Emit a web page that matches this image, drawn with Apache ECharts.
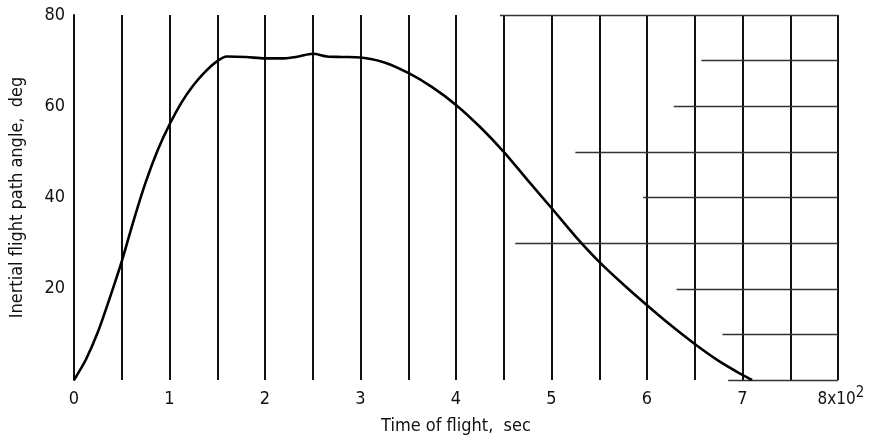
<!DOCTYPE html>
<html>
<head>
<meta charset="utf-8">
<script src="https://cdn.jsdelivr.net/npm/echarts@6/dist/echarts.min.js"></script>
<style>
  html, body { margin: 0; padding: 0; background: #fff; }
  #chart { width: 873px; height: 436px; }
</style>
</head>
<body>
<div id="chart"></div>
<script>
// time of flight (x10^2 sec) and inertial flight path angle (deg)
var timeVals = [0, 0.125, 0.25, 0.375, 0.5, 0.625, 0.75, 0.875, 1, 1.125, 1.25, 1.375, 1.5, 1.6, 1.8, 2, 2.2, 2.35, 2.5, 2.65, 2.8, 3, 3.25, 3.5, 3.75, 4, 4.25, 4.5, 4.75, 5, 5.25, 5.5, 5.75, 6, 6.25, 6.5, 6.75, 7, 7.1];
var angleVals = [0, 4.5, 10.5, 18, 26, 35, 43.3, 50.3, 56, 60.8, 64.6, 67.6, 69.9, 70.9, 70.8, 70.5, 70.5, 70.9, 71.5, 70.9, 70.8, 70.7, 69.6, 67.3, 64.2, 60.3, 55.5, 50, 43.8, 37.7, 31.5, 25.9, 21, 16.4, 12, 7.9, 4.2, 1.1, 0];

// tick labels
var xTickLabels = ['0', '1', '2', '3', '4', '5', '6', '7', '8x10'];
var yTickLabels = ['20', '40', '60', '80'];

// partial horizontal rules seen on the right of the frame: [y, start x]
var ruleLevels = [80, 70, 60, 50, 40, 30, 20, 10, 0];
var ruleStarts = [4.46, 6.57, 6.28, 5.25, 5.96, 4.62, 6.31, 6.79, 6.85];

var chart = echarts.init(document.getElementById('chart'));

var font = '"DejaVu Sans Condensed", "Liberation Sans Narrow", sans-serif';

var curve = timeVals.map(function (t, i) { return [t, angleVals[i]]; });

var ruleLines = ruleLevels.map(function (y, i) {
  return [
    { coord: [ruleStarts[i], y] },
    { coord: [8, y] }
  ];
});

var option = {
  animation: false,
  backgroundColor: '#fff',
  grid: { left: 74, right: 35, top: 15, bottom: 56, outerBoundsMode: 'none', containLabel: false },
  xAxis: {
    type: 'value',
    min: 0,
    max: 8,
    interval: 0.5,
    name: 'Time of flight,  sec',
    nameLocation: 'middle',
    nameGap: 23,
    nameTextStyle: { fontFamily: font, fontSize: 18, color: '#111' },
    axisLine: { show: false },
    axisTick: { show: false },
    axisLabel: {
      margin: 6,
      fontFamily: font,
      fontSize: 18,
      color: '#111',
      formatter: function (v) {
        if (Math.abs(v - Math.round(v)) > 1e-6) return '';
        var lab = xTickLabels[Math.round(v)];
        if (Math.round(v) === 8) return '{e|' + lab + '}{sup|2}';
        return '{b|' + lab + '}';
      },
      rich: {
        b: { fontFamily: font, fontSize: 18, color: '#111', lineHeight: 22, verticalAlign: 'bottom' },
        e: { fontFamily: font, fontSize: 17, color: '#111', lineHeight: 22, verticalAlign: 'bottom', padding: [0, 0, 0, 6] },
        sup: { fontFamily: font, fontSize: 15, color: '#111', lineHeight: 22, verticalAlign: 'top', padding: [0, 0, 11, 0] }
      }
    },
    splitLine: { show: true, lineStyle: { color: '#111', width: 2 } }
  },
  yAxis: {
    type: 'value',
    min: 0,
    max: 80,
    interval: 10,
    name: 'Inertial flight path angle,  deg',
    nameLocation: 'middle',
    nameGap: 48,
    nameRotate: 90,
    nameTextStyle: { fontFamily: font, fontSize: 18, color: '#111' },
    axisLine: { show: true, lineStyle: { color: '#111', width: 2 } },
    axisTick: { show: false },
    axisLabel: {
      margin: 9,
      fontFamily: font,
      fontSize: 18,
      color: '#111',
      formatter: function (v) {
        var idx = yTickLabels.indexOf(String(v));
        return idx >= 0 ? yTickLabels[idx] : '';
      }
    },
    splitLine: { show: false }
  },
  series: [
    {
      type: 'line',
      data: curve,
      smooth: 0.3,
      symbol: 'none',
      lineStyle: { color: '#000', width: 2.6 },
      z: 5,
      markLine: {
        silent: true,
        symbol: ['none', 'none'],
        label: { show: false },
        lineStyle: { color: '#333', width: 1.3, type: 'solid' },
        data: ruleLines
      }
    }
  ]
};

chart.setOption(option);
</script>
</body>
</html>
